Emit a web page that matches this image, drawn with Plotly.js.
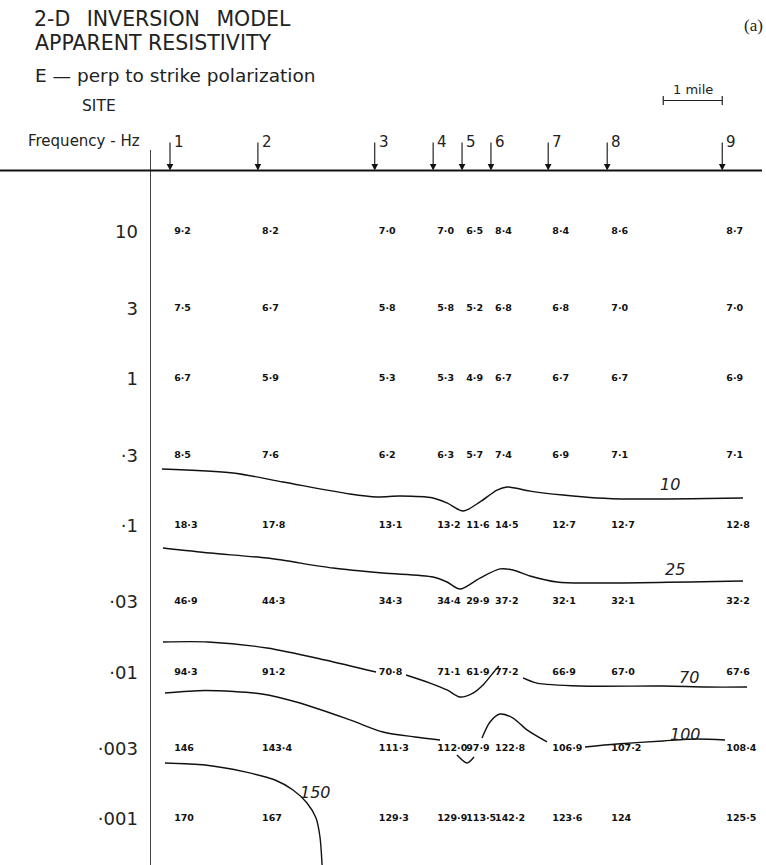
<!DOCTYPE html>
<html>
<head>
<meta charset="utf-8">
<script src="https://cdn.plot.ly/plotly-3.0.1.min.js"></script>
<style>
  html, body { margin: 0; padding: 0; background: #fff; }
  .annotation[data-index="0"] text { word-spacing: 10px; }
</style>
</head>
<body>
<div id="chart" style="width:766px;height:865px;"></div>
<script>
// ---- Sites (distance along profile, miles) ----
const siteNames = ['1', '2', '3', '4', '5', '6', '7', '8', '9'];
const siteMiles = [0, 1.49, 3.47, 4.46, 4.95, 5.44, 6.41, 7.41, 9.36];

// ---- Frequencies (Hz) and their printed labels ----
const freqHz = [10, 3, 1, 0.3, 0.1, 0.03, 0.01, 0.003, 0.001];
const freqLabels = ['10', '3', '1', '·3', '·1', '·03', '·01', '·003', '·001'];

// ---- Apparent resistivity (ohm-m), one row per frequency, one column per site ----
const rho_10Hz    = ['9.2', '8.2', '7.0', '7.0', '6.5', '8.4', '8.4', '8.6', '8.7'];
const rho_3Hz     = ['7.5', '6.7', '5.8', '5.8', '5.2', '6.8', '6.8', '7.0', '7.0'];
const rho_1Hz     = ['6.7', '5.9', '5.3', '5.3', '4.9', '6.7', '6.7', '6.7', '6.9'];
const rho_0_3Hz   = ['8.5', '7.6', '6.2', '6.3', '5.7', '7.4', '6.9', '7.1', '7.1'];
const rho_0_1Hz   = ['18.3', '17.8', '13.1', '13.2', '11.6', '14.5', '12.7', '12.7', '12.8'];
const rho_0_03Hz  = ['46.9', '44.3', '34.3', '34.4', '29.9', '37.2', '32.1', '32.1', '32.2'];
const rho_0_01Hz  = ['94.3', '91.2', '70.8', '71.1', '61.9', '77.2', '66.9', '67.0', '67.6'];
const rho_0_003Hz = ['146', '143.4', '111.3', '112.0', '97.9', '122.8', '106.9', '107.2', '108.4'];
const rho_0_001Hz = ['170', '167', '129.3', '129.9', '113.5', '142.2', '123.6', '124', '125.5'];
const rhoRows = [rho_10Hz, rho_3Hz, rho_1Hz, rho_0_3Hz, rho_0_1Hz, rho_0_03Hz, rho_0_01Hz, rho_0_003Hz, rho_0_001Hz];

// ---- Hand-drawn contours: distance (miles) and log10(frequency) ----
const c10_x    = [-0.136, 1.068, 1.915, 3.051, 3.508, 3.898, 4.458, 4.695, 4.966, 5.254, 5.542, 5.712, 6.102, 6.661, 7.237, 7.797, 9.712];
const c10_logf = [-0.617, -0.644, -0.705, -0.787, -0.807, -0.801, -0.814, -0.848, -0.903, -0.841, -0.760, -0.739, -0.767, -0.794, -0.814, -0.821, -0.814];

const c25_x    = [-0.119, 0.678, 1.644, 2.763, 3.610, 4.458, 4.695, 4.915, 5.254, 5.593, 5.814, 6.102, 6.559, 7.119, 9.712];
const c25_logf = [-1.155, -1.189, -1.223, -1.291, -1.325, -1.352, -1.386, -1.434, -1.359, -1.297, -1.304, -1.345, -1.386, -1.393, -1.379];

const c70_x    = [-0.119, 0.644, 1.644, 2.627, 3.492, null, 4.0, 4.407, 4.695, 4.915, 5.136, 5.305, 5.475, 5.576, null, 5.983, 6.220, 6.949, 8.356, 9.102, 9.780];
const c70_logf = [-1.794, -1.794, -1.835, -1.917, -1.999, null, -2.019, -2.074, -2.121, -2.169, -2.142, -2.087, -2.005, -1.958, null, -2.039, -2.074, -2.094, -2.094, -2.101, -2.101];

const c100_x    = [-0.085, 0.593, 1.559, 2.203, 3.051, 3.610, 4.153, 4.576, null, 4.864, 5.034, 5.153, null, 5.288, 5.424, 5.593, 5.814, 6.051, 6.390, null, 7.034, 7.576, 8.356, 8.932, 9.407];
const c100_logf = [-2.142, -2.125, -2.148, -2.210, -2.325, -2.407, -2.441, -2.462, null, -2.564, -2.618, -2.577, null, -2.448, -2.339, -2.285, -2.312, -2.393, -2.475, null, -2.509, -2.489, -2.468, -2.455, -2.462];

const c150_x    = [-0.085, 0.593, 1.271, 1.780, 2.085, 2.322, 2.475, 2.542, 2.580];
const c150_logf = [-2.618, -2.632, -2.679, -2.734, -2.802, -2.890, -2.993, -3.122, -3.330];

// ---- Contour labels ----
const contourLevels = ['10', '25', '70', '100', '150'];
const contourLabelMiles = [8.475, 8.559, 8.797, 8.729, 2.458];
const contourLabelLogf  = [-0.719, -1.304, -2.033, -2.421, -2.822];

// ---- Scale bar ----
const scaleBarMiles = 1;

// ================= build =================
const toHz = arr => arr.map(v => (v === null ? null : Math.pow(10, v)));
const contourLine = (xs, ls) => ({
  type: 'scatter', mode: 'lines', x: xs, y: toHz(ls),
  line: { color: '#111', width: 1.4, shape: 'spline', smoothing: 0.8 },
  connectgaps: false, hoverinfo: 'skip', showlegend: false
});

const traces = [
  contourLine(c10_x, c10_logf),
  contourLine(c25_x, c25_logf),
  contourLine(c70_x, c70_logf),
  contourLine(c100_x, c100_logf),
  contourLine(c150_x, c150_logf)
];

const tx = [], ty = [], tt = [];
rhoRows.forEach((row, r) => {
  row.forEach((v, s) => {
    tx.push(siteMiles[s]);
    ty.push(freqHz[r]);
    tt.push(v.replace('.', '·'));
  });
});
traces.push({
  type: 'scatter', mode: 'markers+text', x: tx, y: ty, text: tt,
  textposition: 'middle right',
  marker: { size: 5, color: 'rgba(0,0,0,0)', line: { width: 0 } },
  textfont: { family: 'DejaVu Sans', size: 9.5, color: '#111', weight: 'bold' },
  cliponaxis: false, hoverinfo: 'skip', showlegend: false
});

const W = 766, H = 865;
const px = p => p / W;          // paper x from pixel
const py = p => (H - p) / H;    // paper y from pixel
const surfaceY = py(170.5);

const titleFont = { family: 'DejaVu Sans', color: '#222' };
const annotations = [
  { text: '2-D INVERSION MODEL', xref: 'paper', yref: 'paper', x: px(42), y: py(19.5), xanchor: 'left', yanchor: 'middle', showarrow: false, font: Object.assign({ size: 20.5 }, titleFont) },
  { text: 'APPARENT RESISTIVITY', xref: 'paper', yref: 'paper', x: px(33), y: py(42.5), xanchor: 'left', yanchor: 'middle', showarrow: false, font: Object.assign({ size: 20.5 }, titleFont) },
  { text: 'E — perp to strike polarization', xref: 'paper', yref: 'paper', x: px(33), y: py(75), xanchor: 'left', yanchor: 'middle', showarrow: false, font: Object.assign({ size: 18.5 }, titleFont) },
  { text: 'SITE', xref: 'paper', yref: 'paper', x: px(80), y: py(106), xanchor: 'left', yanchor: 'middle', showarrow: false, font: Object.assign({ size: 15.5 }, titleFont) },
  { text: 'Frequency - Hz', xref: 'paper', yref: 'paper', x: px(26), y: py(141), xanchor: 'left', yanchor: 'middle', showarrow: false, font: Object.assign({ size: 15 }, titleFont) },
  { text: '(a)', xref: 'paper', yref: 'paper', x: px(765), y: py(26), xanchor: 'right', yanchor: 'middle', showarrow: false, font: { family: 'Liberation Serif', size: 17, color: '#222' } },
  { text: '1 mile', xref: 'x', yref: 'paper', x: siteMiles[8] - scaleBarMiles / 2, y: py(90), xanchor: 'center', yanchor: 'middle', showarrow: false, font: Object.assign({ size: 13 }, titleFont) }
];

siteNames.forEach((n, i) => {
  annotations.push({
    xref: 'x', yref: 'paper', x: siteMiles[i], y: surfaceY,
    ax: 0, ay: -38, showarrow: true, arrowhead: 2, arrowsize: 1.2, arrowwidth: 1.1,
    arrowcolor: '#111', standoff: 0
  });
  annotations.push({
    text: n, xref: 'x', yref: 'paper', x: siteMiles[i], xshift: 2, y: py(142),
    xanchor: 'left', yanchor: 'middle', showarrow: false,
    font: { family: 'DejaVu Sans', size: 15, color: '#222' }
  });
});

contourLevels.forEach((lv, i) => {
  annotations.push({
    text: lv, xref: 'x', yref: 'y', x: contourLabelMiles[i], y: contourLabelLogf[i],
    xanchor: 'center', yanchor: 'middle', showarrow: false,
    font: { family: 'DejaVu Sans', size: 16, color: '#222', style: 'italic' }
  });
});

const shapes = [
  // ground surface line
  { type: 'line', xref: 'paper', yref: 'paper', x0: 0, x1: px(762), y0: surfaceY, y1: surfaceY, line: { color: '#111', width: 2 } },
  // scale bar
  { type: 'line', xref: 'x', yref: 'paper', x0: siteMiles[8] - scaleBarMiles, x1: siteMiles[8], y0: py(100.5), y1: py(100.5), line: { color: '#222', width: 1.2 } },
  { type: 'line', xref: 'x', yref: 'paper', x0: siteMiles[8] - scaleBarMiles, x1: siteMiles[8] - scaleBarMiles, y0: py(96), y1: py(105), line: { color: '#222', width: 1.2 } },
  { type: 'line', xref: 'x', yref: 'paper', x0: siteMiles[8], x1: siteMiles[8], y0: py(96), y1: py(105), line: { color: '#222', width: 1.2 } }
];

const layout = {
  width: W, height: H,
  margin: { l: 0, r: 0, t: 0, b: 0, pad: 0 },
  paper_bgcolor: '#fff', plot_bgcolor: 'rgba(0,0,0,0)',
  showlegend: false,
  xaxis: {
    range: [-170 / 59, (766 - 170) / 59], domain: [0, 1], visible: false, fixedrange: true
  },
  yaxis: {
    type: 'log', range: [-3.3125, 1.5548], domain: [0, py(150)],
    anchor: 'free', position: px(149.5),
    showline: true, linecolor: '#444', linewidth: 1,
    ticks: '', tickvals: freqHz, ticktext: freqLabels, ticklabelstandoff: 8,
    tickfont: { family: 'DejaVu Sans', size: 18, color: '#222' },
    showgrid: false, zeroline: false, fixedrange: true
  },
  annotations: annotations,
  shapes: shapes
};

Plotly.newPlot('chart', traces, layout, { staticPlot: true, displayModeBar: false });
</script>
</body>
</html>
